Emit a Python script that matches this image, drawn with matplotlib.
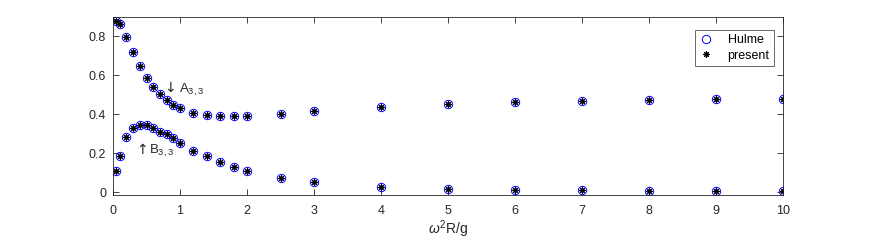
import matplotlib
matplotlib.use("Agg")
import matplotlib.pyplot as plt

plt.rcParams['font.family'] = ['Liberation Sans', 'DejaVu Sans']
plt.rcParams['mathtext.fontset'] = 'custom'
plt.rcParams['mathtext.rm'] = 'Liberation Sans'
plt.rcParams['mathtext.it'] = 'Liberation Sans:italic'

x = [0.05, 0.1, 0.2, 0.3, 0.4, 0.5, 0.6, 0.7, 0.8, 0.9, 1.0, 1.2, 1.4, 1.6, 1.8, 2.0,
     2.5, 3, 4, 5, 6, 7, 8, 9, 10]
A33 = [0.880, 0.864, 0.795, 0.720, 0.648, 0.589, 0.541, 0.505, 0.472, 0.450, 0.431,
       0.407, 0.397, 0.390, 0.390, 0.392, 0.402, 0.416, 0.436, 0.452, 0.462, 0.469,
       0.474, 0.478, 0.479]
B33 = [0.107, 0.187, 0.283, 0.330, 0.347, 0.344, 0.330, 0.311, 0.296, 0.277, 0.253,
       0.213, 0.184, 0.153, 0.129, 0.107, 0.074, 0.052, 0.027, 0.017, 0.012, 0.009,
       0.008, 0.007, 0.006]
xticks = [0, 1, 2, 3, 4, 5, 6, 7, 8, 9, 10]
yticks = [0, 0.2, 0.4, 0.6, 0.8]
ytick_labels = ['0', '0.2', '0.4', '0.6', '0.8']

W, H = 872, 241
fig = plt.figure(figsize=(W / 100, H / 100), dpi=100)
ax = fig.add_axes([113 / W, 1 - 195 / H, (783 - 113) / W, (195 - 17) / H])

gray = (0.15, 0.15, 0.15)
asterisk = (8, 2, 0)
ax.plot(x + x, A33 + B33, linestyle='none', marker='o', markersize=6,
        markerfacecolor='none', markeredgecolor='blue', markeredgewidth=0.7, label='Hulme')
ax.plot(x + x, A33 + B33, linestyle='none', marker=asterisk, markersize=4.5,
        color='black', markeredgewidth=0.8, label='present')

ax.set_xlim(0, 10)
ax.set_ylim(-0.015, 0.9)
ax.set_xticks(xticks)
ax.set_xticklabels([str(t) for t in xticks])
ax.set_yticks(yticks)
ax.set_yticklabels(ytick_labels)
ax.tick_params(direction='in', length=4, width=0.6, colors=gray, labelsize=9,
               top=True, right=True, labeltop=False, labelright=False)
ax.tick_params(axis='x', pad=7)
ax.tick_params(axis='y', pad=5)
for s in ax.spines.values():
    s.set_color(gray)
    s.set_linewidth(0.6)

ax.text(0.76, 0.513, '↓', fontsize=10, color=gray, va='baseline', ha='left',
        family=['DejaVu Sans'])
ax.text(0.98, 0.513, r'A$_{3,3}$', fontsize=9.5, color=gray, va='baseline', ha='left')
ax.text(0.34, 0.197, '↑', fontsize=10, color=gray, va='baseline', ha='left',
        family=['DejaVu Sans'])
ax.text(0.53, 0.197, r'B$_{3,3}$', fontsize=9.5, color=gray, va='baseline', ha='left')

ax.set_xlabel(r'$\omega^2$R/g', fontsize=10, color=gray, labelpad=1)

leg = ax.legend(loc='upper right', bbox_to_anchor=((774 - 113) / (783 - 113), 1 - (30 - 17) / (195 - 17)),
                fontsize=9, frameon=True, fancybox=False, handlelength=1.2,
                handletextpad=1.1, borderpad=0.35, labelspacing=0.25, borderaxespad=0)
leg.get_frame().set_edgecolor(gray)
leg.get_frame().set_linewidth(0.6)

fig.savefig('out.png', dpi=100)
